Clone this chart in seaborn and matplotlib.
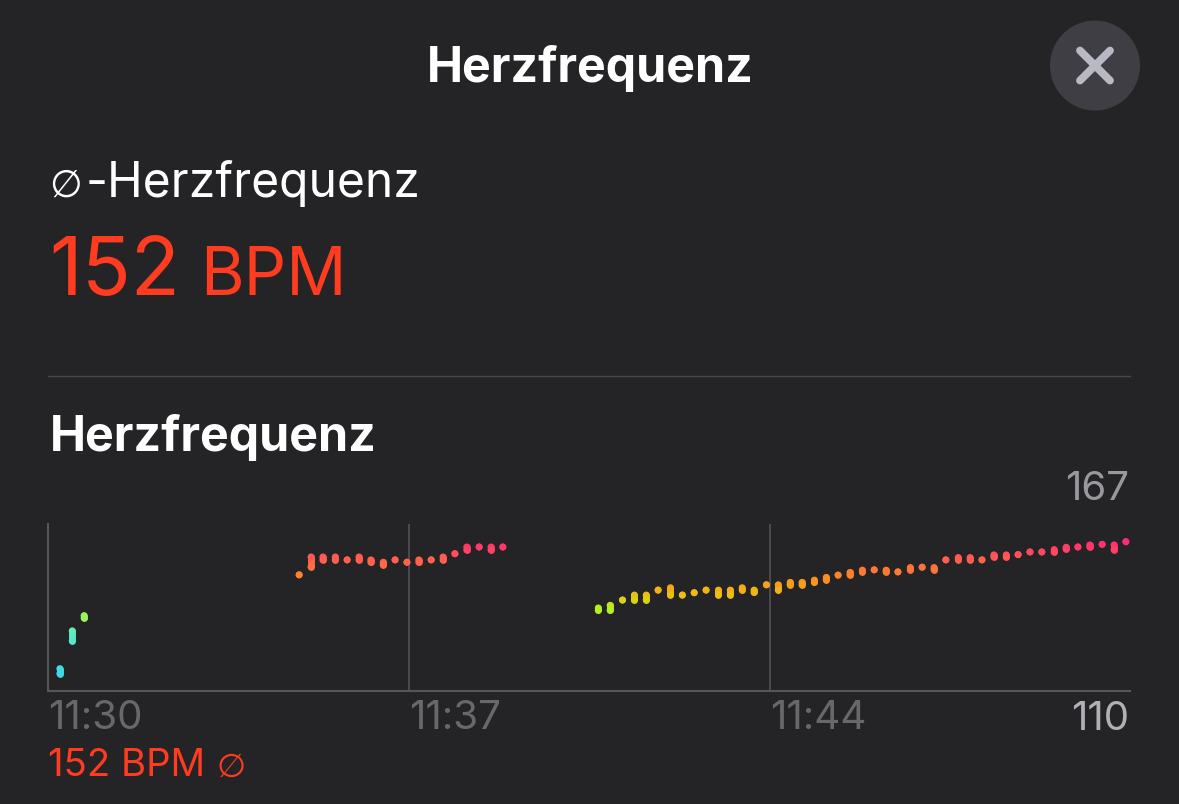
import matplotlib
matplotlib.use('Agg')
import matplotlib.pyplot as plt
from matplotlib.colors import LinearSegmentedColormap, Normalize
from matplotlib.patches import Circle
import pandas as pd
import seaborn as sns

# minutes after 11:30, one bin per reading
minutes = [0.23, 0.47, 0.70,
           4.87, 5.10, 5.33, 5.57, 5.80, 6.03, 6.26, 6.50, 6.73, 6.96, 7.19, 7.43, 7.66, 7.89, 8.12, 8.36, 8.59, 8.82,
           10.67, 10.90, 11.14, 11.37, 11.60, 11.83, 12.07, 12.30, 12.53, 12.76, 13.00, 13.23, 13.46, 13.69, 13.93,
           14.16, 14.39, 14.62, 14.86, 15.09, 15.32, 15.55, 15.79, 16.02, 16.25, 16.48, 16.72, 16.95, 17.18, 17.41,
           17.65, 17.88, 18.11, 18.34, 18.58, 18.81, 19.04, 19.27, 19.51, 19.74, 19.97, 20.20, 20.44, 20.67, 20.90]
bpm_high = [117.6, 130.5, 135.7,
            149.6, 155.7, 155.7, 155.7, 154.7, 155.7, 154.7, 153.9, 154.7, 153.9, 154.7, 154.7, 155.7, 156.8, 159.1, 159.1, 159.1, 159.1,
            138.3, 139.2, 141.0, 142.7, 142.7, 144.4, 145.2, 142.7, 143.5, 144.4, 144.4, 144.4, 145.2, 144.4, 146.2,
            146.2, 147.0, 147.0, 147.8, 148.7, 149.5, 150.4, 151.2, 151.3, 151.2, 150.6, 152.1, 152.2, 152.1, 154.7,
            155.5, 155.5, 154.7, 156.4, 156.4, 156.5, 157.4, 157.4, 158.2, 159.0, 159.1, 159.8, 160.0, 159.8, 160.9]
bpm_low = [115.9, 127.1, 134.9,
           149.6, 152.3, 154.7, 154.7, 154.7, 154.7, 153.9, 153.0, 154.7, 153.9, 153.9, 154.7, 154.7, 156.8, 158.1, 159.1, 158.1, 159.1,
           137.5, 137.5, 141.0, 141.0, 141.0, 144.4, 142.8, 142.7, 143.5, 144.4, 142.8, 142.8, 144.4, 143.6, 146.2,
           144.4, 146.2, 146.2, 147.0, 147.9, 149.5, 149.6, 150.6, 151.3, 150.6, 150.6, 151.4, 152.2, 151.4, 154.7,
           154.8, 154.8, 154.7, 155.7, 155.7, 156.5, 157.4, 157.4, 157.4, 158.4, 159.1, 159.1, 160.0, 158.2, 160.9]

tick_minutes = [0, 7, 14]
tick_labels = ['11:30', '11:37', '11:44']

BG = '#242426'
RED = '#ff3b20'
W, H = 1179, 804

# heart-rate zones, cyan at the bottom through to pink at the top
zone_bpm = [115, 130, 135, 138, 142, 146, 150, 153, 156, 159, 161]
zone_colors = ['#3fd8e6', '#5eeac0', '#9cf264', '#b4ee1e', '#e6c810', '#f7a01c',
               '#fb7e2c', '#ff6c44', '#ff5458', '#ff3a68', '#ff2a7c']
norm = Normalize(min(zone_bpm), max(zone_bpm))
cmap = LinearSegmentedColormap.from_list(
    'zones', [(norm(b), c) for b, c in zip(zone_bpm, zone_colors)])

df = pd.DataFrame({'minute': minutes, 'high': bpm_high, 'low': bpm_low})
df['mid'] = (df['high'] + df['low']) / 2
ends = df.melt(id_vars='minute', value_vars=['high', 'low'], value_name='bpm')

sns.set_theme(style='dark', rc={'figure.facecolor': BG, 'axes.facecolor': BG})
plt.rcParams['font.family'] = ['Inter', 'DejaVu Sans']

fig = plt.figure(figsize=(W / 100, (H + 0.5) / 100), dpi=100)


def txt(x, y, s, size, color='white', weight='normal', ha='left', family=None):
    # x, y in image pixels, y is the baseline
    return fig.text(x / W, 1 - y / H, s, fontsize=size, color=color,
                    fontweight=weight, ha=ha, va='baseline', family=family)


ax = fig.add_axes([48 / W, 1 - 691 / H, (1130 - 48) / W, (691 - 524) / H])

ax.vlines(df['minute'], df['low'], df['high'], colors=cmap(norm(df['mid'])),
          linewidth=5, capstyle='round', zorder=3)
sns.scatterplot(data=ends, x='minute', y='bpm', hue='bpm', palette=cmap, hue_norm=norm,
                s=25, linewidth=0, legend=False, ax=ax, zorder=4)

ax.set_xlim(0, 20.98)
ax.set_ylim(110, 167)
ax.set_xlabel('')
ax.set_ylabel('')
ax.set_yticks([])
ax.set_xticks(tick_minutes)
ax.set_xticklabels(tick_labels, ha='left', fontsize=29, color='#68686c')
ax.tick_params(axis='x', length=0, pad=6)
ax.grid(False)
for m in tick_minutes[1:]:
    ax.axvline(m, color='#4c4c50', linewidth=1.4, zorder=1)
for side in ['top', 'right']:
    ax.spines[side].set_visible(False)
for side in ['left', 'bottom']:
    ax.spines[side].set_color('#55555a')
    ax.spines[side].set_linewidth(1.5)

txt(590, 82, 'Herzfrequenz', 34.8, weight='bold', ha='center')
txt(49, 197, '∅', 27, family='DejaVu Sans')
txt(86, 197, '-Herzfrequenz', 34.5)
txt(49, 295, '152', 58, color=RED)
txt(200, 295, 'BPM', 48, color=RED)
txt(49.5, 451, 'Herzfrequenz', 34.8, weight='bold')
txt(1129, 500, '167', 29, color='#98989e', ha='right')
txt(1129, 730, '110', 29, color='#b0b0b6', ha='right')
txt(48, 776, '152 BPM', 27.6, color=RED)
txt(216, 776, '∅', 24, color=RED, family='DejaVu Sans')

# divider and close button
fig.add_artist(plt.Line2D([48 / W, 1130 / W], [1 - 376 / H] * 2, color='#48484a', linewidth=1))
bg = fig.add_axes([0, 0, 1, 1], zorder=5)
bg.set_xlim(0, W)
bg.set_ylim(H, 0)
bg.axis('off')
bg.add_patch(Circle((1095, 66), 45, color='#3e3e44', linewidth=0))
bg.plot([1080, 1110], [51, 81], color='#b9b9c4', linewidth=5.6, solid_capstyle='round')
bg.plot([1080, 1110], [81, 51], color='#b9b9c4', linewidth=5.6, solid_capstyle='round')

fig.savefig('out.png', dpi=100, facecolor=BG)
